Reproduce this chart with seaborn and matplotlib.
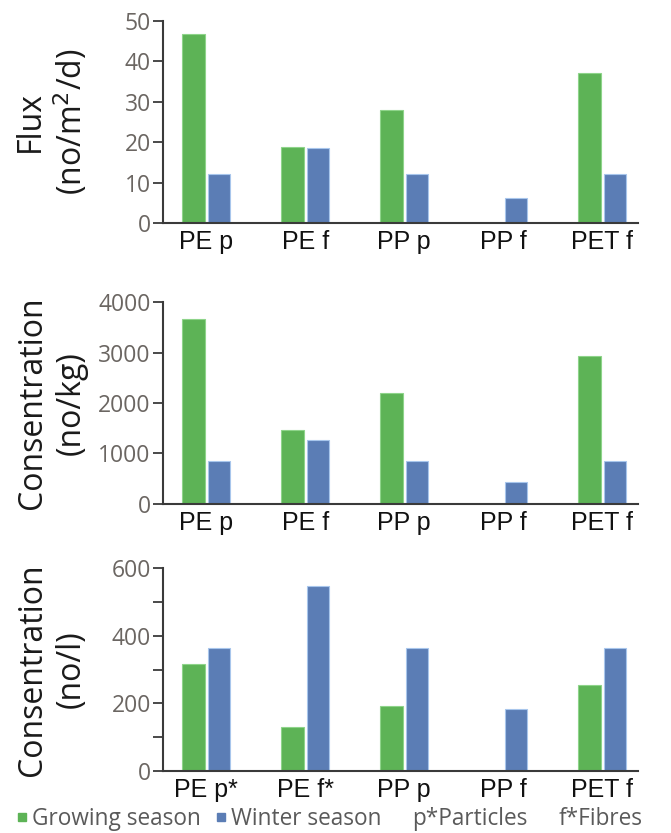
import numpy as np
import pandas as pd
import matplotlib
matplotlib.use("Agg")
import matplotlib.pyplot as plt
from matplotlib.lines import Line2D
import seaborn as sns

# ---------------- data ----------------
categories_top = ["PE p", "PE f", "PP p", "PP f", "PET f"]
categories_bottom = ["PE p*", "PE f*", "PP p", "PP f", "PET f"]
seasons = ["Growing season", "Winter season"]

flux_growing = [46.7, 18.8, 28.0, 0.0, 37.2]
flux_winter = [12.2, 18.5, 12.2, 6.1, 12.2]

conc_kg_growing = [3670, 1470, 2190, 0, 2930]
conc_kg_winter = [845, 1275, 845, 436, 845]

conc_l_growing = [316, 129, 192, 0, 254]
conc_l_winter = [365, 546, 365, 183, 365]

ylabels = ["Flux\n(no/m$^2$/d)", "Consentration\n(no/kg)", "Consentration\n(no/l)"]
yticks_top = [0, 10, 20, 30, 40, 50]
yticks_mid = [0, 1000, 2000, 3000, 4000]
yticks_bot = [0, 100, 200, 300, 400, 500, 600]
yticklabels_bot = ["0", "", "200", "", "400", "", "600"]
legend_notes = ["p*Particles", "f*Fibres"]

GREEN = "#5DB356"
BLUE = "#5B7DB5"
GREEN_EDGE = "#8ED48A"
BLUE_EDGE = "#A8C6EC"


def make_df(cats, g, w):
    return pd.DataFrame({
        "cat": cats * 2,
        "season": [seasons[0]] * len(cats) + [seasons[1]] * len(cats),
        "value": list(g) + list(w),
    })


sns.set_theme(style="white")
plt.rcParams["font.family"] = ["Open Sans", "DejaVu Sans"]

fig = plt.figure(figsize=(6.71, 8.33), dpi=100)
W, H = 671, 833
left = 162.6 / W
width = (638 - 162.6) / W
panels = [(21, 223), (302, 504), (568, 771)]
axes = []
for top, bot in panels:
    axes.append(fig.add_axes([left, 1 - bot / H, width, (bot - top) / H]))

datasets = [
    (categories_top, flux_growing, flux_winter, yticks_top, None, 50),
    (categories_top, conc_kg_growing, conc_kg_winter, yticks_mid, None, 4000),
    (categories_bottom, conc_l_growing, conc_l_winter, yticks_bot, yticklabels_bot, 600),
]

for ax, (cats, g, w, yt, ytl, ymax), ylab in zip(axes, datasets, ylabels):
    df = make_df(cats, g, w)
    sns.barplot(data=df, x="cat", y="value", hue="season", order=cats,
                hue_order=seasons, palette=[GREEN, BLUE], width=0.52, gap=0.13,
                ax=ax, legend=False, saturation=1)
    for patch, ec in zip(ax.patches, [GREEN_EDGE] * len(cats) + [BLUE_EDGE] * len(cats)):
        patch.set_edgecolor(ec)
        patch.set_linewidth(0.8)
    ax.set_xlim(-0.44, 4.36)
    ax.set_ylim(0, ymax)
    if ytl is None:
        ax.set_yticks(yt)
    else:
        ax.set_yticks(yt, labels=ytl)
    ax.set_xlabel("")
    ax.set_ylabel(ylab, fontsize=23, color="#1a1a1a", linespacing=1.2,
                  va="center", ha="center")
    ax.yaxis.set_label_coords((52 - 162.6) / (638 - 162.6), 0.5)
    for s in ["top", "right"]:
        ax.spines[s].set_visible(False)
    for s in ["left", "bottom"]:
        ax.spines[s].set_color("#3a3a3a")
        ax.spines[s].set_linewidth(1.5)
    ax.tick_params(axis="y", which="major", left=True, length=7, width=1.3,
                   color="#3a3a3a", pad=1.5, labelsize=16.5, labelcolor="#6b6662")
    ax.tick_params(axis="x", length=0, pad=5, labelsize=18, labelcolor="#111111")
    for lbl in ax.get_xticklabels():
        lbl.set_fontfamily(["Liberation Sans", "DejaVu Sans"])
    ax.grid(False)
    ax.set_facecolor("white")

handles = [
    Line2D([], [], marker="s", linestyle="none", markersize=5.5, color=GREEN),
    Line2D([], [], marker="s", linestyle="none", markersize=5.5, color=BLUE),
    Line2D([], [], linestyle="none"),
    Line2D([], [], linestyle="none"),
]
labels = seasons + legend_notes
leg = fig.legend(handles, labels, loc="center left", bbox_to_anchor=(16 / W, 14 / H),
                 ncol=4, frameon=False, fontsize=16.3, handlelength=0.5,
                 handletextpad=0.2, columnspacing=0.65, borderpad=0, borderaxespad=0)
for t in leg.get_texts():
    t.set_color("#5a5a5a")

fig.savefig("out.png", dpi=100)
